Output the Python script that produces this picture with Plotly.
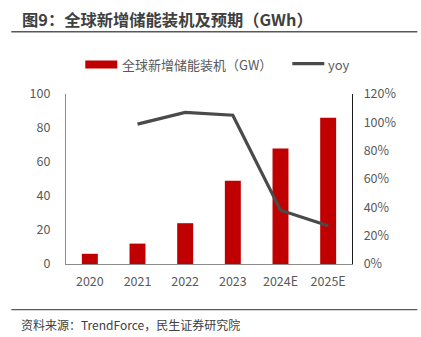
import plotly.graph_objects as go

categories = ["2020", "2021", "2022", "2023", "2024E", "2025E"]
installed_gw = [6, 12, 24, 49, 68, 86]
yoy_years = ["2021", "2022", "2023", "2024E", "2025E"]
yoy_pct = [98.7, 107, 105, 38, 27]
left_ticks = [0, 20, 40, 60, 80, 100]
right_ticks = [0, 20, 40, 60, 80, 100, 120]
right_tick_labels = [f"{v}%" for v in right_ticks]

W, H = 421, 337
L, R, T, B = 65.7, 351.7, 94.0, 264.3
pw, ph = R - L, B - T

def px(x):
    return (x - L) / pw

def py(y):
    return (B - y) / ph

FONT = "Noto Sans CJK SC"
TICK = "#595959"

fig = go.Figure()
fig.add_trace(go.Bar(x=categories, y=installed_gw, marker=dict(color="#C00000", line=dict(width=0)),
                     name="全球新增储能装机（GW）", yaxis="y"))
fig.add_trace(go.Scatter(x=yoy_years, y=yoy_pct, mode="lines", line=dict(color="#4a4a4a", width=3.2),
                         name="yoy", yaxis="y2"))

fig.update_layout(
    width=W, height=H,
    margin=dict(l=L, r=W - R, t=T, b=H - B, pad=0),
    paper_bgcolor="white", plot_bgcolor="white",
    showlegend=False,
    bargap=0.665,
    font=dict(family=FONT, size=12.5, color=TICK),
    xaxis=dict(type="category", showgrid=False, showline=True, linecolor="#8c8c8c", linewidth=1.3,
               ticks="", tickfont=dict(size=12.5, color=TICK), ticklabelstandoff=6, zeroline=False),
    yaxis=dict(range=[0, 100], tickvals=left_ticks, showgrid=False, showline=True, linecolor="#8c8c8c",
               linewidth=1.3, ticks="", ticklabelstandoff=12, tickfont=dict(size=12.5, color=TICK),
               zeroline=False),
    yaxis2=dict(range=[0, 120], tickvals=right_ticks, ticktext=right_tick_labels, overlaying="y",
                side="right", showgrid=False, showline=True, linecolor="#1a1a1a", linewidth=1.3,
                ticks="", ticklabelstandoff=8, tickfont=dict(size=12.5, color=TICK), zeroline=False),
)

shapes = [
    dict(type="line", xref="paper", yref="paper", x0=px(11), x1=px(417), y0=py(31.7), y1=py(31.7),
         line=dict(color="#595959", width=1.5)),
    dict(type="line", xref="paper", yref="paper", x0=px(11), x1=px(417), y0=py(310), y1=py(310),
         line=dict(color="#595959", width=1.3)),
    dict(type="rect", xref="paper", yref="paper", x0=px(85), x1=px(117), y0=py(60.5), y1=py(68.5),
         fillcolor="#C00000", line=dict(width=0)),
    dict(type="line", xref="paper", yref="paper", x0=px(292), x1=px(324), y0=py(63.5), y1=py(63.5),
         line=dict(color="#4a4a4a", width=3.2)),
]
fig.update_layout(shapes=shapes)

annotations = [
    dict(text="<b>图9：全球新增储能装机及预期（GWh）</b>", x=px(20), y=py(18.5), xref="paper", yref="paper",
         xanchor="left", yanchor="middle", showarrow=False, font=dict(size=16.3, color="#404040", family=FONT)),
    dict(text="全球新增储能装机（GW）", x=px(120), y=py(64), xref="paper", yref="paper",
         xanchor="left", yanchor="middle", showarrow=False, font=dict(size=13, color=TICK, family=FONT)),
    dict(text="yoy", x=px(326), y=py(64), xref="paper", yref="paper",
         xanchor="left", yanchor="middle", showarrow=False, font=dict(size=13, color=TICK, family=FONT)),
    dict(text="资料来源：TrendForce，民生证券研究院", x=px(19), y=py(324.5), xref="paper", yref="paper",
         xanchor="left", yanchor="middle", showarrow=False, font=dict(size=12, color="#404040", family=FONT)),
]
fig.update_layout(annotations=annotations)

fig.write_html("out.html")
